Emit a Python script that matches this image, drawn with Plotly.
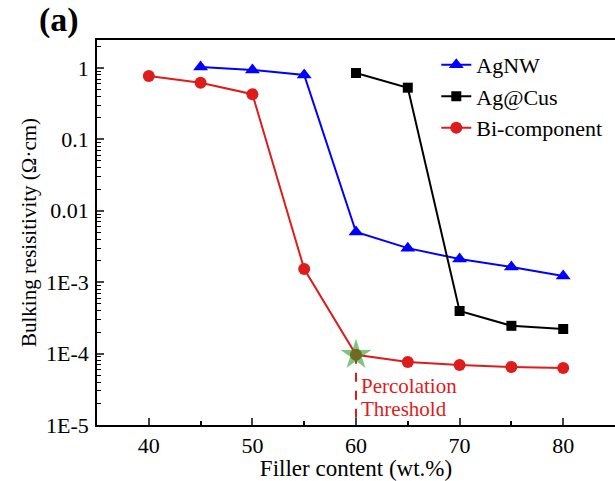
import plotly.graph_objects as go

# Filler content (wt.%) for each series
agnw_x = [45, 50, 55, 60, 65, 70, 75, 80]
agnw_y = [1.03, 0.94, 0.80, 0.00505, 0.0030, 0.00211, 0.00163, 0.00122]

agcus_x = [60, 65, 70, 75, 80]
agcus_y = [0.85, 0.53, 0.000395, 0.000245, 0.000221]

bi_x = [40, 45, 50, 55, 60, 65, 70, 75, 80]
bi_y = [0.77, 0.62, 0.43, 0.00153, 9.6e-5, 7.6e-5, 6.9e-5, 6.5e-5, 6.3e-5]

threshold_x = 60
threshold_y = 9.6e-5

y_tickvals = [1, 0.1, 0.01, 1e-3, 1e-4, 1e-5]
y_ticktext = ["1", "0.1", "0.01", "1E-3", "1E-4", "1E-5"]
x_tickvals = [40, 50, 60, 70, 80]

FONT = "Liberation Serif"
RED = "#DD1C1C"

fig = go.Figure()

fig.add_trace(go.Scatter(
    x=agnw_x, y=agnw_y, name="AgNW", mode="lines+markers",
    line=dict(color="#0000FF", width=2),
    marker=dict(symbol="triangle-up", size=13, color="#0000FF"),
))
fig.add_trace(go.Scatter(
    x=agcus_x, y=agcus_y, name="Ag@Cus", mode="lines+markers",
    line=dict(color="black", width=2),
    marker=dict(symbol="square", size=10, color="black"),
))
fig.add_trace(go.Scatter(
    x=bi_x, y=bi_y, name="Bi-component", mode="lines+markers",
    line=dict(color=RED, width=2),
    marker=dict(symbol="circle", size=12, color=RED),
))

# dashed drop line marking the percolation threshold
fig.add_trace(go.Scatter(
    x=[threshold_x, threshold_x], y=[threshold_y, 1e-5], mode="lines",
    line=dict(color=RED, width=2, dash="dash"), showlegend=False,
    hoverinfo="skip",
))
# star highlighting the threshold point
fig.add_trace(go.Scatter(
    x=[threshold_x], y=[threshold_y], mode="markers", showlegend=False,
    marker=dict(symbol="star", size=23, color="rgba(40,160,40,0.6)",
                line=dict(width=0)),
))

# two-line label, set as separate lines for tight spacing
for txt, yv in (("Percolation", -4.45), ("Threshold", -4.77)):
    fig.add_annotation(
        x=threshold_x, y=yv, xref="x", yref="y",
        text=txt, showarrow=False,
        xanchor="left", yanchor="middle", xshift=3,
        font=dict(family=FONT, size=21, color=RED),
    )

fig.add_annotation(
    x=-0.115, y=0.998, xref="paper", yref="paper",
    text="<b>(a)</b>", showarrow=False, xanchor="left", yanchor="bottom",
    font=dict(family=FONT, size=34, color="black"),
)

fig.update_layout(
    width=615, height=481,
    margin=dict(l=97, r=0, t=40, b=56),
    paper_bgcolor="white", plot_bgcolor="white",
    font=dict(family=FONT, size=20, color="black"),
    legend=dict(
        x=0.655, y=0.99, xanchor="left", yanchor="top",
        bgcolor="rgba(0,0,0,0)", borderwidth=0,
        font=dict(family=FONT, size=22, color="black"), tracegroupgap=0,
    ),
    xaxis=dict(
        range=[35, 85], tickvals=x_tickvals, ticks="inside", ticklen=7,
        tickwidth=1.5, showline=True, linecolor="black", linewidth=1.5,
        mirror=True, showgrid=False, zeroline=False,
        minor=dict(tickvals=[45, 55, 65, 75], ticks="inside", ticklen=4,
                   tickwidth=1.5, tickcolor="black"),
        title=dict(text="Filler content (wt.%)",
                   font=dict(family=FONT, size=23, color="black"), standoff=8),
        tickfont=dict(family=FONT, size=22, color="black"),
    ),
    yaxis=dict(
        type="log", range=[-5, 0.392], tickvals=y_tickvals, ticktext=y_ticktext,
        ticks="inside", ticklen=7, tickwidth=1.5, showline=True,
        linecolor="black", linewidth=1.5, showgrid=False, zeroline=False,
        minor=dict(ticks="inside", ticklen=4, tickwidth=1, tickcolor="black",
                   dtick="D1"),
        title=dict(text="Bulking resisitivity (Ω·cm)",
                   font=dict(family=FONT, size=21, color="black"), standoff=4),
        tickfont=dict(family=FONT, size=22, color="black"), ticklabelstandoff=2,
    ),
)

fig.write_html("out.html")
